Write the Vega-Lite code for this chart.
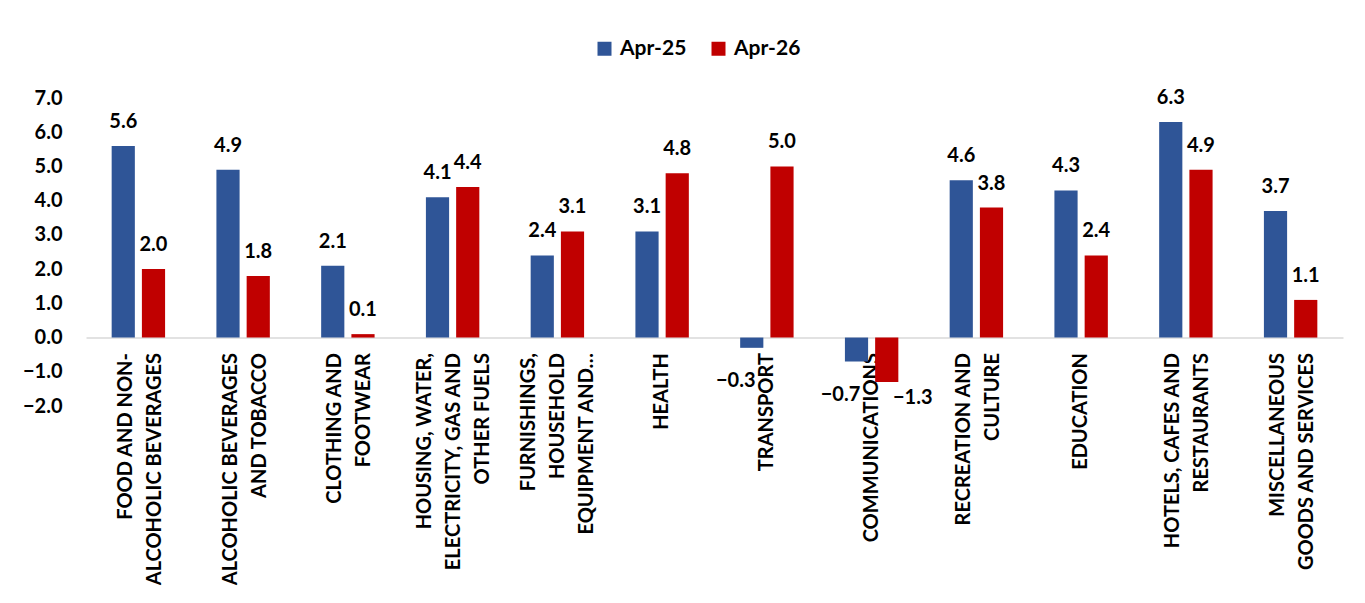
{
  "$schema": "https://vega.github.io/schema/vega-lite/v6.json",
  "width": 1257,
  "height": 308,
  "autosize": "none",
  "padding": {"left": 86, "top": 98, "right": 22, "bottom": 197},
  "background": "white",
  "config": {
    "view": {"stroke": null},
    "font": "Lato"
  },
  "data": {
    "values": [
      {"cat": "FOOD AND NON-|ALCOHOLIC BEVERAGES", "series": "Apr-25", "value": 5.6},
      {"cat": "FOOD AND NON-|ALCOHOLIC BEVERAGES", "series": "Apr-26", "value": 2.0},
      {"cat": "ALCOHOLIC BEVERAGES|AND  TOBACCO", "series": "Apr-25", "value": 4.9},
      {"cat": "ALCOHOLIC BEVERAGES|AND  TOBACCO", "series": "Apr-26", "value": 1.8},
      {"cat": "CLOTHING AND|FOOTWEAR", "series": "Apr-25", "value": 2.1},
      {"cat": "CLOTHING AND|FOOTWEAR", "series": "Apr-26", "value": 0.1},
      {"cat": "HOUSING, WATER,|ELECTRICITY, GAS AND|OTHER FUELS", "series": "Apr-25", "value": 4.1},
      {"cat": "HOUSING, WATER,|ELECTRICITY, GAS AND|OTHER FUELS", "series": "Apr-26", "value": 4.4},
      {"cat": "FURNISHINGS,|HOUSEHOLD|EQUIPMENT AND…", "series": "Apr-25", "value": 2.4},
      {"cat": "FURNISHINGS,|HOUSEHOLD|EQUIPMENT AND…", "series": "Apr-26", "value": 3.1},
      {"cat": "HEALTH", "series": "Apr-25", "value": 3.1},
      {"cat": "HEALTH", "series": "Apr-26", "value": 4.8},
      {"cat": "TRANSPORT", "series": "Apr-25", "value": -0.3},
      {"cat": "TRANSPORT", "series": "Apr-26", "value": 5.0},
      {"cat": "COMMUNICATIONS", "series": "Apr-25", "value": -0.7},
      {"cat": "COMMUNICATIONS", "series": "Apr-26", "value": -1.3},
      {"cat": "RECREATION AND|CULTURE", "series": "Apr-25", "value": 4.6},
      {"cat": "RECREATION AND|CULTURE", "series": "Apr-26", "value": 3.8},
      {"cat": "EDUCATION", "series": "Apr-25", "value": 4.3},
      {"cat": "EDUCATION", "series": "Apr-26", "value": 2.4},
      {"cat": "HOTELS, CAFES AND|RESTAURANTS", "series": "Apr-25", "value": 6.3},
      {"cat": "HOTELS, CAFES AND|RESTAURANTS", "series": "Apr-26", "value": 4.9},
      {"cat": "MISCELLANEOUS|GOODS AND SERVICES", "series": "Apr-25", "value": 3.7},
      {"cat": "MISCELLANEOUS|GOODS AND SERVICES", "series": "Apr-26", "value": 1.1}
    ]
  },
  "encoding": {
    "x": {
      "field": "cat",
      "type": "nominal",
      "sort": null,
      "scale": {"paddingInner": 0.49, "paddingOuter": 0.245},
      "axis": {
        "title": null,
        "orient": "bottom",
        "offset": -68.44,
        "labelAngle": -90,
        "labelAlign": "right",
        "labelBaseline": "middle",
        "labelPadding": 15,
        "labelExpr": "split(datum.label, '|')",
        "labelOffset": {
          "condition": [
            {"test": "length(split(datum.value, '|')) == 3", "value": -28},
            {"test": "length(split(datum.value, '|')) == 2", "value": -12.5}
          ],
          "value": 0
        },
        "labelFont": "Lato",
        "labelFontSize": 20,
        "labelFontWeight": "bold",
        "labelColor": "#000000",
        "labelLimit": 500,
        "labelLineHeight": 29,
        "labelOverlap": false,
        "ticks": false,
        "tickSize": 0,
        "domain": true,
        "domainColor": "#D9D9D9",
        "domainWidth": 1.5,
        "grid": false
      }
    },
    "xOffset": {
      "field": "series",
      "type": "nominal",
      "sort": ["Apr-25", "Apr-26"],
      "scale": {"paddingInner": 0.233, "paddingOuter": 0}
    },
    "y": {
      "field": "value",
      "type": "quantitative",
      "scale": {"domain": [-2, 7], "nice": false, "zero": false},
      "axis": {
        "title": null,
        "values": [-2, -1, 0, 1, 2, 3, 4, 5, 6, 7],
        "format": ".1f",
        "grid": false,
        "domain": false,
        "ticks": false,
        "tickSize": 0,
        "labelPadding": 24,
        "labelFont": "Lato",
        "labelFontSize": 20,
        "labelFontWeight": "bold",
        "labelColor": "#000000"
      }
    }
  },
  "layer": [
    {
      "mark": {"type": "bar"},
      "encoding": {
        "y2": {"datum": 0},
        "color": {
          "field": "series",
          "type": "nominal",
          "scale": {"domain": ["Apr-25", "Apr-26"], "range": ["#2F5597", "#C00000"]},
          "legend": {
            "title": null,
            "orient": "none",
            "legendX": 508,
            "legendY": -60,
            "direction": "horizontal",
            "symbolType": "square",
            "symbolSize": 196,
            "symbolStrokeWidth": 0,
            "labelFont": "Lato",
            "labelFontSize": 21,
            "labelFontWeight": "bold",
            "labelColor": "#000000",
            "columnPadding": 21,
            "labelOffset": 5
          }
        }
      }
    },
    {
      "transform": [{"filter": "datum.value >= 0"}],
      "mark": {"type": "text", "baseline": "alphabetic", "dy": -18, "fontSize": 20, "fontWeight": "bold", "font": "Lato", "color": "#000000"},
      "encoding": {
        "text": {"field": "value", "type": "quantitative", "format": ".1f"}
      }
    },
    {
      "transform": [{"filter": "datum.value < 0 && datum.series == 'Apr-25'"}],
      "mark": {"type": "text", "baseline": "middle", "dy": 33, "dx": -16, "fontSize": 20, "fontWeight": "bold", "font": "Lato", "color": "#000000"},
      "encoding": {
        "text": {"field": "value", "type": "quantitative", "format": ".1f"}
      }
    },
    {
      "transform": [{"filter": "datum.value < 0 && datum.series == 'Apr-26'"}],
      "mark": {"type": "text", "baseline": "middle", "dy": 16, "dx": 26, "fontSize": 20, "fontWeight": "bold", "font": "Lato", "color": "#000000"},
      "encoding": {
        "text": {"field": "value", "type": "quantitative", "format": ".1f"}
      }
    }
  ]
}
